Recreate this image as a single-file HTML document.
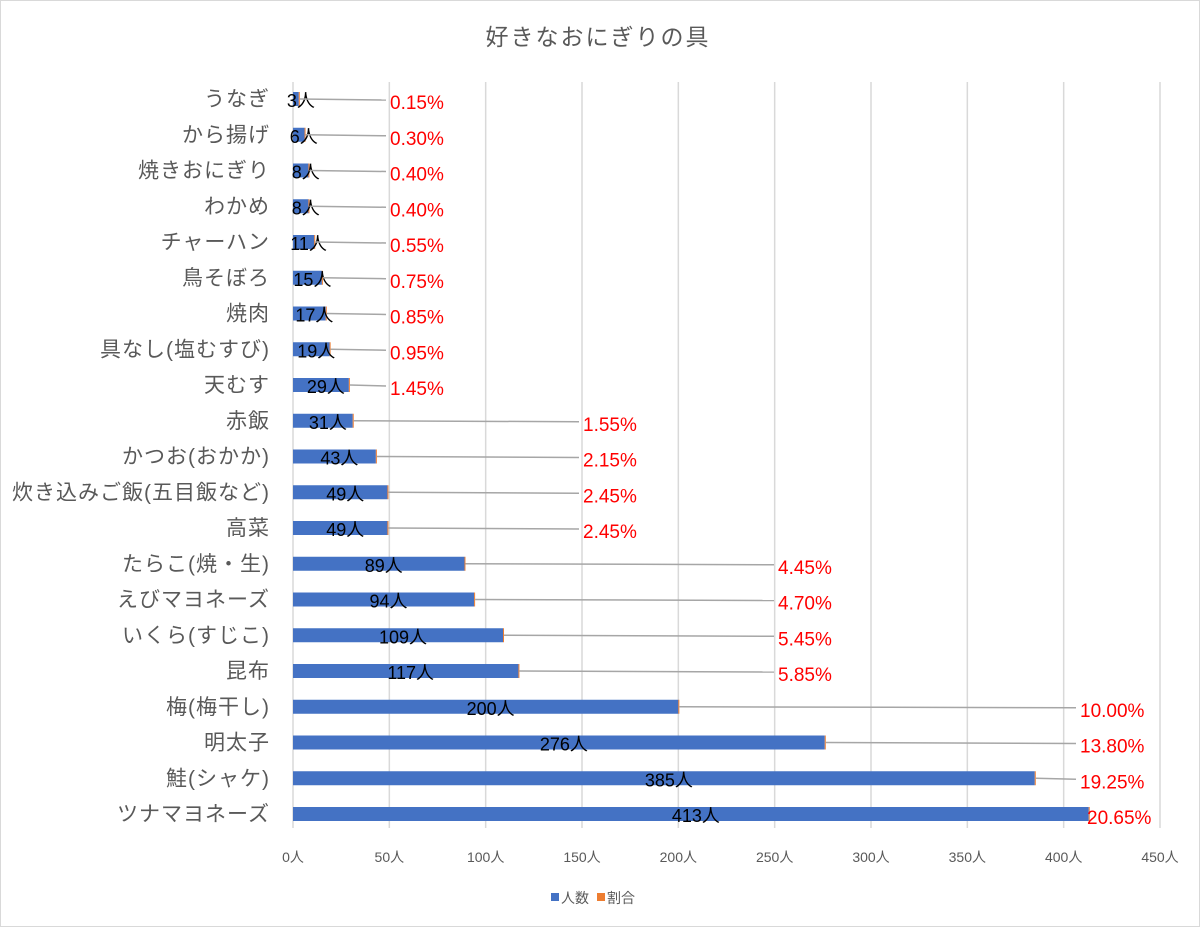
<!DOCTYPE html>
<html><head><meta charset="utf-8">
<style>
html,body{margin:0;padding:0;background:#fff;}
#wrap{position:relative;width:1200px;height:927px;overflow:hidden;}
svg text{font-family:"Liberation Sans","Noto Sans CJK JP",sans-serif;}
</style></head>
<body>
<div id="wrap">
<svg id="chart" width="1200" height="927" xmlns="http://www.w3.org/2000/svg">
<rect x="0.5" y="0.5" width="1199" height="926" fill="#fff" stroke="#d9d9d9"/>
<text x="598" y="45" text-anchor="middle" font-size="23" fill="#595959" letter-spacing="2">好きなおにぎりの具</text>
<g id="grid"></g><g id="bars"></g><g id="labels"></g>
<g>
<rect x="551" y="893" width="8" height="8" fill="#4472c4"/>
<text x="561" y="903" font-size="14" fill="#595959">人数</text>
<rect x="597" y="893" width="8" height="8" fill="#ed7d31"/>
<text x="607" y="903" font-size="14" fill="#595959">割合</text>
</g>
</svg>
</div>
<script>
const categories = ["うなぎ","から揚げ","焼きおにぎり","わかめ","チャーハン","鳥そぼろ","焼肉","具なし(塩むすび)","天むす","赤飯","かつお(おかか)","炊き込みご飯(五目飯など)","高菜","たらこ(焼・生)","えびマヨネーズ","いくら(すじこ)","昆布","梅(梅干し)","明太子","鮭(シャケ)","ツナマヨネーズ"];
const counts = [3,6,8,8,11,15,17,19,29,31,43,49,49,89,94,109,117,200,276,385,413];
const ratios = [0.15,0.30,0.40,0.40,0.55,0.75,0.85,0.95,1.45,1.55,2.15,2.45,2.45,4.45,4.70,5.45,5.85,10.00,13.80,19.25,20.65];
const ticks = [0,50,100,150,200,250,300,350,400,450];
const labelCol = [0,0,0,0,0,0,0,0,0,1,1,1,1,2,2,2,2,3,3,3,4];

const NS="http://www.w3.org/2000/svg";
const x0=293, x1=1160, xmax=450;
const xs=v=>x0+(v/xmax)*(x1-x0);
const yTop=99, yStep=35.75;
const ys=i=>yTop+i*yStep;
const colX=[390,583,778,1080,1087];
function mk(t,a,p){const e=document.createElementNS(NS,t);for(const k in a)e.setAttribute(k,a[k]);p.appendChild(e);return e;}
const grid=document.getElementById('grid'),bars=document.getElementById('bars'),labels=document.getElementById('labels');
ticks.forEach(t=>{
  const l=mk('line',{x1:xs(t),x2:xs(t),y1:82,y2:828,stroke:'#d9d9d9','stroke-width':1.5},grid);
  
  
  const tx=mk('text',{x:xs(t),y:862,'text-anchor':'middle','font-size':14,fill:'#595959'},grid);
  tx.textContent=t+'人';
  
  
});
categories.forEach((c,i)=>{
  const y=ys(i);
  const ct=mk('text',{x:270,y:y+7,'text-anchor':'end','font-size':21,'letter-spacing':1,fill:'#595959'},labels);
  ct.textContent=c;
  
  
  const w=xs(counts[i])-x0;
  const b=mk('rect',{x:x0,y:y-7,width:w,height:14,fill:'#4472c4'},bars);
  
  
  const o=mk('rect',{x:x0+w,y:y-7,width:Math.max(1,xs(ratios[i]/100)-x0),height:14,fill:'#ed7d31'},bars);
  
  
  const vt=mk('text',{x:x0+w/2+5,y:y+8,'text-anchor':'middle','font-size':18,fill:'#000'},labels);
  vt.textContent=counts[i]+'人';
  
  
  const lx=colX[labelCol[i]];
  if(labelCol[i]<4){
    const ln=mk('line',{x1:x0+w+1,y1:y,x2:lx-4,y2:y+1,stroke:'#a6a6a6','stroke-width':1.5},labels);
    
    
  }
  const pt=mk('text',{x:lx,y:y+10,'font-size':19,fill:'#ff0000'},labels);
  pt.textContent=ratios[i].toFixed(2)+'%';
  
  
});
</script>
</body></html>
